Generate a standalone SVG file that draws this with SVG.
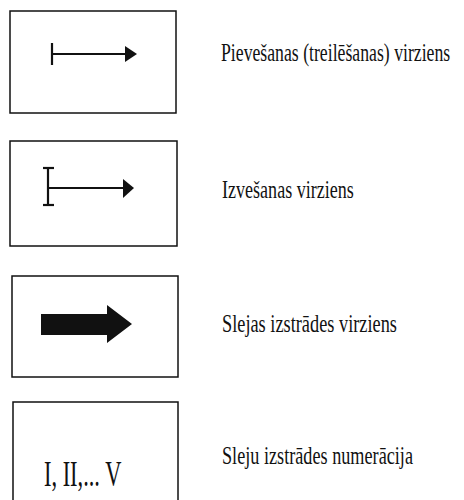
<svg xmlns="http://www.w3.org/2000/svg" width="464" height="500" viewBox="0 0 464 500">
<style>
.box{fill:none;stroke:#111;stroke-width:1.5}
.ln{stroke:#111;stroke-width:2.2;fill:none}
.hd{fill:#111}
.lbl{font-family:"Liberation Serif",serif;font-size:25px;fill:#111}
.num{font-family:"Liberation Serif",serif;font-size:35px;fill:#111}
</style>
<rect width="464" height="500" fill="#fff"/>
<g id="node1">
<rect class="box" x="10" y="11" width="166" height="102"/>
<line class="ln" x1="52" y1="43" x2="52" y2="65"/>
<line class="ln" x1="52" y1="54" x2="126" y2="54"/>
<polygon class="hd" points="125,46 137,54 125,62"/>
<text class="lbl" transform="translate(221,61) scale(0.709,1)">Pievešanas (treilēšanas) virziens</text>
</g>
<g id="node2">
<rect class="box" x="10" y="141" width="167" height="105"/>
<line class="ln" x1="48" y1="168" x2="48" y2="205"/>
<line class="ln" x1="43" y1="168" x2="54" y2="168"/>
<line class="ln" x1="43" y1="205" x2="54" y2="205"/>
<line class="ln" x1="48" y1="188" x2="124" y2="188"/>
<polygon class="hd" points="123,179 134,188 123,198"/>
<text class="lbl" transform="translate(222,198) scale(0.723,1)">Izvešanas virziens</text>
</g>
<g id="node3">
<rect class="box" x="12" y="276" width="166" height="101"/>
<polygon class="hd" points="41,314 107,314 107,305 132,324 107,343 107,335 41,335"/>
<text class="lbl" transform="translate(222,332) scale(0.733,1)">Slejas izstrādes virziens</text>
</g>
<g id="node4">
<rect class="box" x="13" y="402" width="165" height="110"/>
<text class="num" transform="translate(44,486) scale(0.64,1)">I, II,... V</text>
<text class="lbl" transform="translate(222,464) scale(0.728,1)">Sleju izstrādes numerācija</text>
</g>
<g id="connectors"></g>
</svg>
